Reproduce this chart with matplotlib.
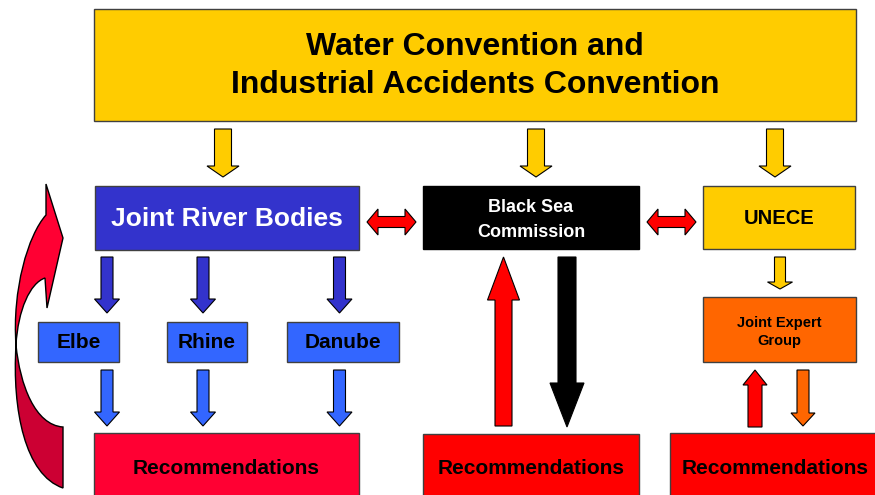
import matplotlib
matplotlib.use("Agg")
import matplotlib.pyplot as plt
from matplotlib.patches import Rectangle, Polygon, PathPatch
from matplotlib.path import Path

plt.rcParams['font.family'] = ['Liberation Sans', 'DejaVu Sans']

# colours
yellow = '#FFCC00'
dark_blue = '#3333CC'
light_blue = '#3366FF'
orange = '#FF6600'
red = '#FF0000'
pink_red = '#FF0033'
dark_red = '#CC0033'

# box texts
title_text = 'Water Convention and\nIndustrial Accidents Convention'
middle_labels = ['Joint River Bodies', 'Black Sea\nCommission', 'UNECE']
river_labels = ['Elbe', 'Rhine', 'Danube']
expert_label = 'Joint Expert\nGroup'
rec_label = 'Recommendations'

fig = plt.figure(figsize=(8.75, 4.95), dpi=100)
ax = fig.add_axes([0, 0, 1, 1])
ax.set_xlim(0, 875)
ax.set_ylim(495, 0)
ax.axis('off')


def box(x0, y0, x1, y1, color, text, tcolor='black', size=14, edge='#404040',
        ty=None, ls=1.35):
    ax.add_patch(Rectangle((x0, y0), x1 - x0, y1 - y0, facecolor=color,
                           edgecolor=edge, linewidth=1, zorder=2))
    if ty is None:
        ty = (y0 + y1) / 2
    ax.text((x0 + x1) / 2, ty, text, color=tcolor, fontsize=size,
            fontweight='bold', ha='center', va='center', linespacing=ls, zorder=3)


# vertical block arrow: tail y0, head starts at hs, tip y1
def varrow(xc, y0, hs, y1, sw, hw, color):
    pts = [(xc - sw / 2, y0), (xc + sw / 2, y0), (xc + sw / 2, hs), (xc + hw / 2, hs),
           (xc, y1), (xc - hw / 2, hs), (xc - sw / 2, hs)]
    ax.add_patch(Polygon(pts, closed=True, facecolor=color, edgecolor='black',
                         linewidth=0.8, zorder=2))


# horizontal double arrow
def darrow(x0, x1, yc, hl=11, h=5.5, H=13, color=red):
    pts = [(x0, yc), (x0 + hl, yc - H), (x0 + hl, yc - h), (x1 - hl, yc - h),
           (x1 - hl, yc - H), (x1, yc), (x1 - hl, yc + H), (x1 - hl, yc + h),
           (x0 + hl, yc + h), (x0 + hl, yc + H)]
    ax.add_patch(Polygon(pts, closed=True, facecolor=color, edgecolor='black',
                         linewidth=0.8, zorder=2))


# top box
box(94, 9, 856, 121, yellow, title_text, size=23, ty=66)

# yellow arrows from the top box
for xc in [223, 536, 775]:
    varrow(xc, 129, 166, 177, 17, 32, yellow)

# middle row
box(95, 186, 359, 250, dark_blue, middle_labels[0], tcolor='white', size=19, ty=219)
box(423, 186, 639, 249, 'black', middle_labels[1], tcolor='white', size=13,
    edge='black', ty=220, ls=1.55)
box(703, 186, 855, 249, yellow, middle_labels[2], size=14.5, ty=219)

darrow(367, 416, 222)
darrow(647, 696, 222)

# rivers
river_x = [(38, 119), (167, 247), (287, 399)]
arrow_x = [107, 203, 339.5]
for (x0, x1), xc, lab in zip(river_x, arrow_x, river_labels):
    varrow(xc, 257, 299, 313, 12, 25, dark_blue)
    box(x0, 322, x1, 362, light_blue, lab, size=15, ty=343)
    varrow(xc, 370, 412, 426, 12, 25, light_blue)

# Black Sea arrows
varrow(503.5, 426, 300, 257, 17, 32, red)
varrow(567, 257, 383, 427, 18, 34, 'black')

# UNECE -> Joint Expert Group
varrow(780, 257, 282, 289, 11, 25, yellow)
box(703, 297, 856, 362, orange, expert_label, size=10.5, ty=332)
varrow(755, 427, 385, 370, 14, 24, red)
varrow(803, 370, 413, 426, 12, 24, orange)

# recommendations
box(94, 433, 359, 505, pink_red, rec_label, size=15, ty=468)
box(423, 434, 639, 505, red, rec_label, size=15, ty=468)
box(670, 433, 880, 505, red, rec_label, size=15, ty=468)

# curved arrow on the left
M, L, C = Path.MOVETO, Path.LINETO, Path.CURVE4
dark_pts = [(16, 345), (12, 410), (25, 475), (63, 488), (63, 427),
            (35, 425), (20, 385), (16, 345), (16, 345)]
dark_codes = [M, C, C, C, L, C, C, C, Path.CLOSEPOLY]
ax.add_patch(PathPatch(Path(dark_pts, dark_codes), facecolor=dark_red,
                       edgecolor='black', linewidth=1, zorder=2))

bright_pts = [(46, 184), (63, 238), (47, 308), (45, 278),
              (30, 283), (18, 310), (16, 345),
              (12, 290), (28, 235), (46, 215), (46, 184)]
bright_codes = [M, L, L, L, C, C, C, C, C, C, Path.CLOSEPOLY]
ax.add_patch(PathPatch(Path(bright_pts, bright_codes), facecolor=pink_red,
                       edgecolor='black', linewidth=1, zorder=2))

plt.savefig('out.png', dpi=100)
